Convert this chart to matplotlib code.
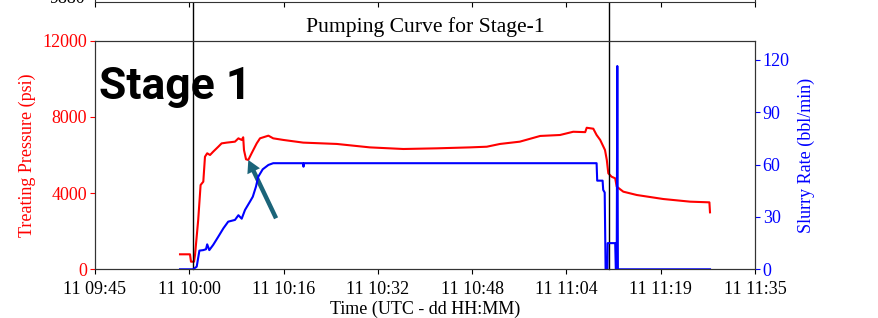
import numpy as np
import matplotlib
matplotlib.use("Agg")
import matplotlib.pyplot as plt

OUTPUT_IMAGE = "out.png"

# time in minutes after 11 09:45
pressure_time = [14.17, 15.83, 16.0, 16.5, 16.67, 17.2, 17.6, 18.05, 18.33, 18.7,
                 19.17, 19.7, 20.55, 21.1, 21.95, 23.33, 23.9, 24.45, 24.7, 24.83,
                 25.17, 25.55, 26.1, 26.95, 27.5, 28.9, 29.7, 31.4, 34.7, 40.3,
                 45.8, 51.4, 56.95, 62.5, 65.3, 67.5, 70.8, 74.2, 77.5, 79.7,
                 81.7, 81.95, 83.05, 83.6, 84.2, 84.6, 85.0, 85.3, 85.55, 86.1,
                 86.7, 86.95, 88.05, 90.3, 94.7, 99.2, 102.4, 102.5]
pressure = [787, 787, 400, 400, 750, 2590, 4425, 4600, 5910, 6090,
            6000, 6175, 6435, 6610, 6650, 6700, 6875, 6790, 6930, 6260,
            5775, 5740, 6090, 6610, 6875, 7015, 6875, 6790, 6650, 6580,
            6400, 6315, 6350, 6400, 6435, 6580, 6700, 7000, 7050, 7220,
            7200, 7430, 7380, 7050, 6790, 6525, 6260, 5740, 5040, 4860,
            4775, 4340, 4075, 3900, 3690, 3550, 3515, 2990]

rate_time = [14.17, 16.33, 16.95, 17.4, 18.05, 18.5, 18.7, 19.05, 19.7, 20.55,
             21.4, 22.2, 23.33, 23.9, 24.45, 25.0, 25.83, 26.3, 26.83, 27.2,
             27.95, 28.9, 29.7, 34.67, 34.75, 34.83, 83.6, 83.7, 84.6, 84.7,
             84.95, 85.1, 85.4, 85.45, 86.7, 86.8, 86.95, 87.05, 87.15, 102.5]
rate = [0, 0, 1.5, 10.7, 11, 11.5, 14.3, 11, 14, 18.7,
        23.5, 27.3, 28.3, 31, 29, 34, 38.8, 41.6, 47.4, 53,
        57.3, 59.8, 60.8, 60.8, 58.8, 60.8, 60.8, 50.8, 50.8, 45.5,
        44, 0, 0, 15, 15, 0, 0, 116.5, 0, 0]

stage_marks = [16.28, 85.72]
tick_labels = ["11 09:45", "11 10:00", "11 10:16", "11 10:32",
               "11 10:48", "11 11:04", "11 11:19", "11 11:35"]
pressure_ticks = [0, 4000, 8000, 12000]
rate_ticks = [0, 30, 60, 90, 120]

SERIF = "Liberation Serif"


def main():
    plt.rcParams["font.family"] = SERIF
    plt.rcParams["font.size"] = 13

    fig = plt.figure(figsize=(8.79, 3.18), dpi=100)
    W, H = 879, 318
    left, right, top, bottom = 95, 755, 40.7, 269.3
    ax = fig.add_axes([left / W, 1 - bottom / H, (right - left) / W, (bottom - top) / H])
    ticks = np.linspace(0, 110, len(tick_labels))

    # piece of the panel above, cut off by the screenshot
    ax_top = fig.add_axes([left / W, 1 - 1.5 / H, (right - left) / W, 100 / H])
    ax_top.set_xlim(0, 110)
    ax_top.set_ylim(9868, 10090)
    ax_top.set_yticks([9880])
    ax_top.set_xticks(ticks)
    ax_top.tick_params(labelbottom=False, direction="out", length=3.5)
    for s in ax_top.spines.values():
        s.set_color("#333333")

    ax.plot(pressure_time, pressure, color="red", lw=1.5)
    ax.set_xlim(0, 110)
    ax.set_ylim(0, 12000)
    ax.set_yticks(pressure_ticks)
    ax.set_xticks(ticks)
    ax.set_xticklabels(tick_labels)
    ax.tick_params(axis="y", colors="red", length=3.5, pad=2)
    ax.tick_params(axis="x", length=3.5, pad=5)
    ax.set_ylabel("Treating Pressure (psi)", color="red", labelpad=5)
    ax.set_xlabel("Time (UTC - dd HH:MM)", labelpad=2)
    ax.set_title("Pumping Curve for Stage-1", pad=6)
    for s in ax.spines.values():
        s.set_color("#333333")

    for m in stage_marks:
        ax.axvline(m, ymin=0, ymax=bottom / (bottom - top), color="black", lw=1, clip_on=False)

    ax.text(0.006, 0.745, "Stage 1", transform=ax.transAxes, family=["Roboto", "DejaVu Sans"],
            fontsize=32, fontweight="bold", va="baseline", zorder=5)

    # arrow pointing at the pressure dip
    pt = np.array(pressure_time)
    pp = np.array(pressure)
    win = (pt > 24) & (pt < 27)
    i = np.argmin(np.where(win, pp, np.inf))
    ax.annotate("", xy=(pt[i], pp[i]), xytext=(20, -42), textcoords="offset points",
                arrowprops=dict(facecolor="#1b6479", edgecolor="none", width=3.2,
                                headwidth=10, headlength=9, shrink=0))

    ax2 = ax.twinx()
    ax2.plot(rate_time, rate, color="blue", lw=1.5)
    ax2.set_ylim(0, 131)
    ax2.set_yticks(rate_ticks)
    ax2.tick_params(axis="y", colors="blue", length=3.5, pad=2)
    ax2.set_ylabel("Slurry Rate (bbl/min)", color="blue", labelpad=6)
    for s in ax2.spines.values():
        s.set_color("#333333")

    fig.savefig(OUTPUT_IMAGE, dpi=100)


if __name__ == "__main__":
    main()
